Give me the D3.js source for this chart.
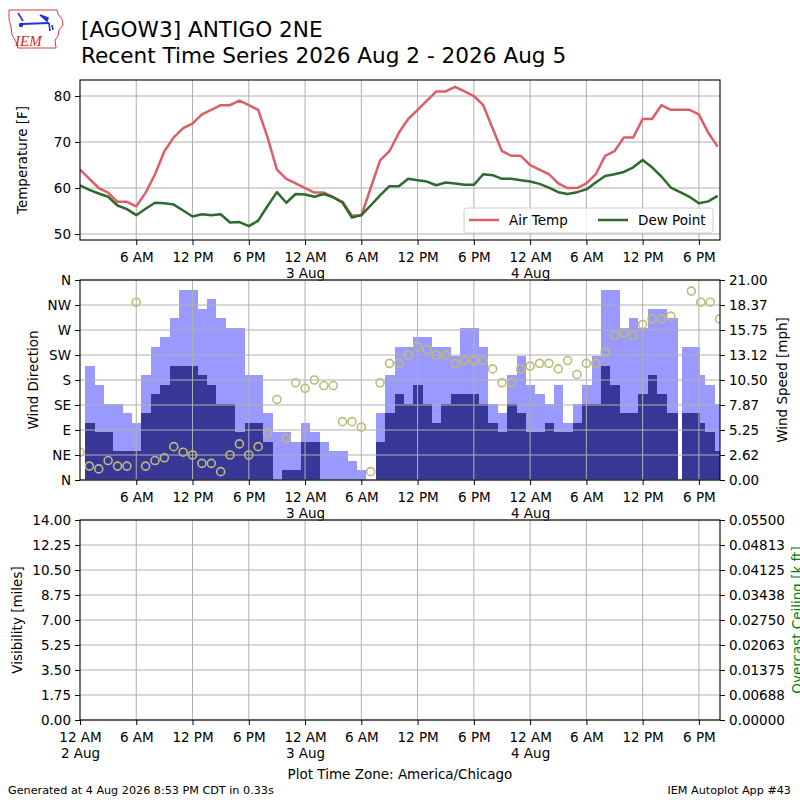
<!DOCTYPE html>
<html>
<head>
<meta charset="utf-8">
<script src="https://cdn.jsdelivr.net/npm/d3@7"></script>
<style>
  body { margin: 0; background: #fff; }
  svg text { font-family: "DejaVu Sans", sans-serif; }
</style>
</head>
<body>
<svg id="chart" width="800" height="800"></svg>
<script>
//////////////// Daten ////////////////////
// hours since 2 Aug 2026 00:00 (America/Chicago)
const obsHours = [0,1,2,3,4,5,6,7,8,9,10,11,12,13,14,15,16,17,18,19,
  20,21,22,23,24,25,26,27,28,29,30,31,32,33,34,35,36,37,38,39,
  40,41,42,43,44,45,46,47,48,49,50,51,52,53,54,55,56,57,58,59,
  60,61,62,63,64,65,66,67,68];

const airTemp = [64,62,60,59,57,57,56,59,63,68,
  71,73,74,76,77,78,78,79,78,77,
  71,64,62,61,60,59,59,58,57,54,
  54,60,66,68,72,75,77,79,81,81,
  82,81,80,78,73,68,67,67,65,64,
  63,61,60,60,61,63,67,68,71,71,
  75,75,78,77,77,77,76,72,69];

const dewPoint = [60.6,59.6,58.8,58.1,56.2,55.4,54.1,55.5,56.8,56.7,
  56.4,55.1,53.8,54.3,54.1,54.3,52.5,52.6,51.7,52.9,
  56.1,59.1,56.8,58.7,58.6,58.1,58.7,58.0,56.8,53.6,
  54.1,56.2,58.4,60.4,60.4,62.0,61.7,61.4,60.6,61.2,
  61.0,60.7,60.7,63.0,62.8,62.0,62.0,61.7,61.4,60.9,
  60.1,59.1,58.7,59.1,59.7,61.2,62.6,63.0,63.5,64.5,
  66.1,64.5,62.5,60.1,59.1,58.1,56.7,57.1,58.3];

// wind bars: start hour of each interval (interval runs to next start)
const windBarStart = [0.55,1.55,2.55,3.55,4.55,5.55,6.55,7.55,8.55,9.55,
  10.55,11.55,12.55,13.55,14.55,15.55,16.55,17.55,18.55,19.55,
  20.55,21.55,22.55,23.55,24.55,25.55,26.55,27.55,28.55,29.55,
  30.55,31.55,32.55,33.55,34.55,35.55,36.55,37.55,38.55,39.55,
  40.55,41.55,42.55,43.55,44.55,45.55,46.55,47.55,48.55,49.55,
  50.55,51.55,52.55,53.55,54.55,55.55,56.55,57.55,58.55,59.55,
  60.55,61.55,62.55,63.8,64.2,66.1,66.7,67.7];

const windGust = [12,10,8,8,7,6,11,14,15,17,
  20,20,18,19,17,16,16,11,11,7,
  5,5,4,6,5,4,3,3,2,1,
  0,7,11,14,14,15,15,14,14,13,
  16,16,14,8,7,11,13,10,9,8,
  10,6,8,10,13,20,20,16,17,16,
  18,18,17,null,14,11,10,8];

const windSpeed = [6,5,5,3,3,3,7,9,10,12,
  12,12,11,10,8,8,5,6,6,4,
  0,1,1,4,4,0,0,0,0,0,
  0,4,7,9,8,10,8,6,8,9,
  9,9,8,6,5,8,7,5,5,6,
  5,5,6,8,8,12,10,7,7,9,
  11,9,7,null,7,6,5,3];

const dirHours = [0,1,2,3,4,5,6,7,8,9,10,11,12,13,14,15,16,17,18,19,
  20,21,22,23,24,25,26,27,28,29,30,31,32,33,34,35,36,37,38,39,
  40,41,42,43,44,45,46,47,48,49,50,51,52,53,54,55,56,57,58,59,
  60,61,62,63,65.2,66.2,67.2,68.2];

const windDir = [50,25,20,35,25,25,320,25,35,40,
  60,50,45,30,30,15,45,65,45,60,
  85,145,75,175,165,180,170,170,105,105,
  95,15,175,210,210,225,240,235,225,225,
  210,215,215,215,200,175,175,200,205,210,
  210,200,215,190,210,210,230,260,265,260,
  280,290,290,295,340,320,320,290];

// ticks
const timeTicks = [0,6,12,18,24,30,36,42,48,54,60,66];
const timeTickLabels = ["12 AM|2 Aug","6 AM","12 PM","6 PM","12 AM|3 Aug","6 AM",
  "12 PM","6 PM","12 AM|4 Aug","6 AM","12 PM","6 PM"];
const tempTicks = [50,60,70,80];
const dirTicks = [0,45,90,135,180,225,270,315,360];
const dirTickLabels = ["N","NE","E","SE","S","SW","W","NW","N"];
const speedTicks = [0,2.625,5.25,7.875,10.5,13.125,15.75,18.375,21];
const speedTickLabels = ["0.00","2.62","5.25","7.87","10.50","13.12","15.75","18.37","21.00"];
const visTicks = [0,1.75,3.5,5.25,7,8.75,10.5,12.25,14];
const visTickLabels = ["0.00","1.75","3.50","5.25","7.00","8.75","10.50","12.25","14.00"];
const ceilTicks = [0,0.006875,0.01375,0.020625,0.0275,0.034375,0.04125,0.048125,0.055];
const ceilTickLabels = ["0.00000","0.00688","0.01375","0.02063","0.02750","0.03438","0.04125","0.04813","0.05500"];

//////////////// Layout ////////////////////
const left = 80, right = 720;
const fontSize = 13.5;
const gridColor = "#b0b0b0";
const colTemp = "#dc5e67", colDew = "#2d6a2d";
const colGust = "#9999ff", colSpeed = "#373797", colDir = "#bdbb78";

const svg = d3.select("#chart");
const x = d3.scaleLinear().domain([0, 68.25]).range([left, right]);

const p1 = {top: 80, bottom: 240},
  p2 = {top: 280, bottom: 480},
  p3 = {top: 520, bottom: 720};

const yTemp = d3.scaleLinear().domain([48.7, 83.48]).range([p1.bottom, p1.top]);
const yDir = d3.scaleLinear().domain([0, 360]).range([p2.bottom, p2.top]);
const ySpeed = d3.scaleLinear().domain([0, 21]).range([p2.bottom, p2.top]);
const yVis = d3.scaleLinear().domain([0, 14]).range([p3.bottom, p3.top]);
const yCeil = d3.scaleLinear().domain([0, 0.055]).range([p3.bottom, p3.top]);

//////////////// Hilfsfunktionen ////////////////////
function clipFor(id, p) {
  svg.append("clipPath").attr("id", id)
    .append("rect")
      .attr("x", left).attr("y", p.top)
      .attr("width", right - left).attr("height", p.bottom - p.top);
  return "url(#" + id + ")";
}

function grid(p, yScale, yVals) {
  const g = svg.append("g").attr("class", "grid")
    .attr("stroke", gridColor).attr("stroke-width", 1);
  g.selectAll("line.v").data(timeTicks.filter(d => d > 0)).enter()
    .append("line").attr("class", "v")
      .attr("x1", d => x(d)).attr("x2", d => x(d))
      .attr("y1", p.top).attr("y2", p.bottom);
  g.selectAll("line.h").data(yVals).enter()
    .append("line").attr("class", "h")
      .attr("x1", left).attr("x2", right)
      .attr("y1", d => yScale(d)).attr("y2", d => yScale(d));
}

function frame(p) {
  svg.append("rect")
    .attr("x", left).attr("y", p.top)
    .attr("width", right - left).attr("height", p.bottom - p.top)
    .attr("fill", "none").attr("stroke", "#000").attr("stroke-width", 1.1);
}

function xAxis(p, showFirst) {
  const vals = showFirst ? timeTicks : timeTicks.slice(1);
  const ax = svg.append("g")
    .attr("transform", "translate(0," + p.bottom + ")")
    .call(d3.axisBottom(x).tickValues(vals).tickSize(5).tickPadding(7)
      .tickFormat(d => timeTickLabels[timeTicks.indexOf(d)]));
  ax.attr("font-size", fontSize).attr("font-family", null);
  ax.select(".domain").remove();
  ax.selectAll(".tick text").each(function() {
    const t = d3.select(this);
    const parts = t.text().split("|");
    t.text(null).attr("dy", null);
    parts.forEach((s, i) => {
      t.append("tspan").attr("x", 0).attr("dy", i ? "1.22em" : "0.71em").text(s);
    });
  });
}

function yAxis(side, yScale, vals, labels) {
  const gen = side === "left" ? d3.axisLeft(yScale) : d3.axisRight(yScale);
  const ax = svg.append("g")
    .attr("transform", "translate(" + (side === "left" ? left : right) + ",0)")
    .call(gen.tickValues(vals).tickSize(5).tickPadding(4)
      .tickFormat((d, i) => labels[i]));
  ax.attr("font-size", fontSize).attr("font-family", null);
  ax.select(".domain").remove();
}

function yTitle(text, cx, cy, color) {
  svg.append("text")
    .attr("transform", "translate(" + cx + "," + cy + ") rotate(-90)")
    .attr("text-anchor", "middle").attr("dy", "0.35em")
    .attr("font-size", fontSize).attr("fill", color || "#000")
    .text(text);
}

//////////////// Kopf ////////////////////
const logo = svg.append("g").attr("class", "logo");
logo.append("path")
  .attr("d", "M9,10 L57,10 L58,14 L62,19 L63,25 L59,30 L58,36 L55,40 L56,48 L18,48 L16,42 L12,35 L11,27 L9,19 Z")
  .attr("fill", "none").attr("stroke", "#e03a3a").attr("stroke-width", 1);
logo.append("line").attr("x1", 22).attr("y1", 24).attr("x2", 49).attr("y2", 23)
  .attr("stroke", "#2233dd").attr("stroke-width", 2);
logo.append("path").attr("d", "M18,13 L23,21 M40,15 L48,18 L47,21 Z M49,23 L50,31 M52,25 L53,30")
  .attr("stroke", "#2233dd").attr("stroke-width", 1.6).attr("fill", "#2233dd");
logo.append("circle").attr("cx", 21).attr("cy", 25).attr("r", 2.2).attr("fill", "#2233dd");
logo.append("text").attr("x", 15).attr("y", 46)
  .style("font-family", "'Liberation Serif', serif").style("font-style", "italic")
  .attr("font-size", 15).attr("fill", "#d42a2a").text("IEM");

svg.append("text").attr("x", 81).attr("y", 37).attr("font-size", 21.6)
  .text("[AGOW3] ANTIGO 2NE");
svg.append("text").attr("x", 81).attr("y", 63).attr("font-size", 21.6)
  .text("Recent Time Series 2026 Aug 2 - 2026 Aug 5");

//////////////// Temperatur ////////////////////
grid(p1, yTemp, tempTicks);
const c1 = clipFor("clip1", p1);
const line = (vals) => d3.line().x((d, i) => x(obsHours[i])).y(d => yTemp(d))(vals);
svg.append("path").attr("d", line(airTemp)).attr("clip-path", c1)
  .attr("fill", "none").attr("stroke", colTemp).attr("stroke-width", 2.5)
  .attr("stroke-linejoin", "round");
svg.append("path").attr("d", line(dewPoint)).attr("clip-path", c1)
  .attr("fill", "none").attr("stroke", colDew).attr("stroke-width", 2.5)
  .attr("stroke-linejoin", "round");
frame(p1);
xAxis(p1, false);
yAxis("left", yTemp, tempTicks, tempTicks.map(String));
yTitle("Temperature [F]", 22, (p1.top + p1.bottom) / 2);

// Legende
const leg = svg.append("g").attr("class", "legend");
leg.append("rect").attr("x", 464).attr("y", 208).attr("width", 249).attr("height", 25)
  .attr("rx", 3).attr("fill", "#fff").attr("fill-opacity", 0.8)
  .attr("stroke", "#d0d0d0").attr("stroke-width", 1);
[{name: "Air Temp", col: colTemp, x0: 469}, {name: "Dew Point", col: colDew, x0: 598}].forEach(d => {
  leg.append("line").attr("x1", d.x0).attr("x2", d.x0 + 30).attr("y1", 220).attr("y2", 220)
    .attr("stroke", d.col).attr("stroke-width", 2.5);
  leg.append("text").attr("x", d.x0 + 40).attr("y", 225).attr("font-size", fontSize).text(d.name);
});

//////////////// Wind ////////////////////
const c2 = clipFor("clip2", p2);
const bars = windBarStart.map((s, i) => ({
  x0: s,
  x1: i < windBarStart.length - 1 ? windBarStart[i + 1] : x.domain()[1],
  gust: windGust[i],
  speed: windSpeed[i]
}));
svg.append("g").attr("clip-path", c2)
  .selectAll("rect.gust").data(bars.filter(d => d.gust != null)).enter()
  .append("rect").attr("class", "gust")
    .attr("x", d => x(d.x0)).attr("width", d => x(d.x1) - x(d.x0))
    .attr("y", d => ySpeed(d.gust)).attr("height", d => ySpeed(0) - ySpeed(d.gust))
    .attr("fill", colGust).attr("shape-rendering", "crispEdges");
svg.append("g").attr("clip-path", c2)
  .selectAll("rect.speed").data(bars.filter(d => d.speed != null)).enter()
  .append("rect").attr("class", "speed")
    .attr("x", d => x(d.x0)).attr("width", d => x(d.x1) - x(d.x0))
    .attr("y", d => ySpeed(d.speed)).attr("height", d => ySpeed(0) - ySpeed(d.speed))
    .attr("fill", colSpeed).attr("shape-rendering", "crispEdges");
grid(p2, yDir, dirTicks);
svg.append("g").attr("clip-path", c2)
  .selectAll("circle").data(windDir).enter()
  .append("circle")
    .attr("cx", (d, i) => x(dirHours[i])).attr("cy", d => yDir(d))
    .attr("r", 4).attr("fill", "none")
    .attr("stroke", colDir).attr("stroke-width", 1.6);
frame(p2);
xAxis(p2, false);
yAxis("left", yDir, dirTicks, dirTickLabels);
yAxis("right", ySpeed, speedTicks, speedTickLabels);
yTitle("Wind Direction", 33, (p2.top + p2.bottom) / 2);
yTitle("Wind Speed [mph]", 782, (p2.top + p2.bottom) / 2);

//////////////// Sicht / Wolken ////////////////////
grid(p3, yVis, visTicks);
frame(p3);
xAxis(p3, true);
yAxis("left", yVis, visTicks, visTickLabels);
yAxis("right", yCeil, ceilTicks, ceilTickLabels);
yTitle("Visibility [miles]", 17, (p3.top + p3.bottom) / 2);
yTitle("Overcast Ceiling [k ft]", 797, (p3.top + p3.bottom) / 2, "green");

//////////////// Fuss ////////////////////
svg.append("text").attr("x", 400).attr("y", 779).attr("text-anchor", "middle")
  .attr("font-size", fontSize).text("Plot Time Zone: America/Chicago");
svg.append("text").attr("x", 8).attr("y", 794).attr("font-size", 11.2)
  .text("Generated at 4 Aug 2026 8:53 PM CDT in 0.33s");
svg.append("text").attr("x", 791).attr("y", 794).attr("text-anchor", "end").attr("font-size", 11.2)
  .text("IEM Autoplot App #43");
</script>
</body>
</html>
